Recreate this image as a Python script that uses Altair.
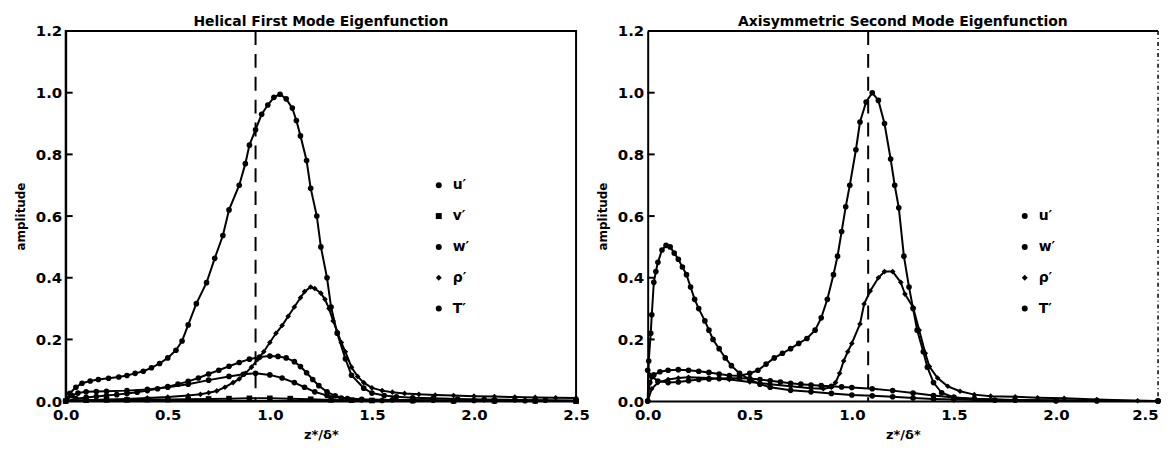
import altair as alt
import pandas as pd

# ---------------- Left panel: Helical First Mode Eigenfunction ----------------
L_T_x = [0, 0.02, 0.05, 0.08, 0.12, 0.16, 0.21, 0.26, 0.30, 0.34, 0.38, 0.42, 0.46, 0.50, 0.54, 0.57,
         0.60, 0.64, 0.69, 0.73, 0.77, 0.80, 0.85, 0.88, 0.90, 0.93, 0.96, 0.99, 1.02, 1.05, 1.08, 1.11,
         1.13, 1.15, 1.18, 1.20, 1.23, 1.25, 1.28, 1.30, 1.33, 1.37, 1.40, 1.46, 1.50, 1.56, 1.62, 1.70,
         1.80, 1.92, 2.05, 2.20, 2.35, 2.50]
L_T_y = [0.0, 0.025, 0.045, 0.058, 0.065, 0.070, 0.074, 0.078, 0.083, 0.090, 0.097, 0.108, 0.122, 0.140,
         0.165, 0.195, 0.247, 0.316, 0.384, 0.463, 0.537, 0.62, 0.70, 0.77, 0.83, 0.88, 0.93, 0.96, 0.985,
         0.995, 0.98, 0.95, 0.91, 0.86, 0.78, 0.69, 0.60, 0.50, 0.40, 0.305, 0.22, 0.137, 0.084, 0.042,
         0.026, 0.018, 0.014, 0.011, 0.009, 0.007, 0.005, 0.004, 0.003, 0.002]

L_R_x = [0, 0.1, 0.2, 0.3, 0.4, 0.5, 0.6, 0.66, 0.70, 0.74, 0.78, 0.82, 0.85, 0.88, 0.91, 0.94, 0.97,
         1.00, 1.03, 1.06, 1.09, 1.12, 1.15, 1.17, 1.20, 1.22, 1.25, 1.27, 1.29, 1.31, 1.33, 1.35, 1.37,
         1.40, 1.43, 1.46, 1.50, 1.55, 1.60, 1.66, 1.73, 1.81, 1.90, 2.00, 2.10, 2.20, 2.30, 2.40, 2.50]
L_R_y = [0.0, 0.003, 0.005, 0.007, 0.010, 0.013, 0.018, 0.022, 0.027, 0.033, 0.045, 0.060, 0.072, 0.090,
         0.110, 0.135, 0.160, 0.190, 0.220, 0.245, 0.275, 0.305, 0.335, 0.355, 0.370, 0.365, 0.350, 0.330,
         0.300, 0.260, 0.225, 0.190, 0.160, 0.110, 0.080, 0.060, 0.043, 0.034, 0.029, 0.025, 0.022, 0.020,
         0.018, 0.016, 0.015, 0.013, 0.012, 0.011, 0.010]

L_U_x = [0, 0.05, 0.1, 0.15, 0.2, 0.25, 0.3, 0.35, 0.4, 0.45, 0.5, 0.55, 0.6, 0.65, 0.7, 0.75, 0.8, 0.85,
         0.9, 0.95, 1.0, 1.04, 1.08, 1.12, 1.15, 1.18, 1.21, 1.24, 1.28, 1.32, 1.38, 1.45, 1.55, 1.7, 1.9,
         2.1, 2.3, 2.5]
L_U_y = [0.0, 0.008, 0.012, 0.015, 0.018, 0.021, 0.025, 0.029, 0.034, 0.040, 0.047, 0.055, 0.064, 0.075,
         0.088, 0.100, 0.113, 0.125, 0.136, 0.143, 0.146, 0.145, 0.140, 0.128, 0.112, 0.092, 0.070, 0.050,
         0.030, 0.017, 0.008, 0.004, 0.002, 0.001, 0.0, 0.0, 0.0, 0.0]

L_W_x = [0, 0.03, 0.06, 0.1, 0.15, 0.2, 0.3, 0.4, 0.5, 0.6, 0.7, 0.8, 0.87, 0.93, 1.0, 1.06, 1.12, 1.17,
         1.22, 1.28, 1.35, 1.45, 1.6, 1.8, 2.0, 2.25, 2.5]
L_W_y = [0.0, 0.018, 0.026, 0.030, 0.031, 0.032, 0.034, 0.038, 0.045, 0.055, 0.068, 0.080, 0.087, 0.090,
         0.085, 0.075, 0.060, 0.045, 0.030, 0.018, 0.010, 0.006, 0.004, 0.003, 0.002, 0.001, 0.0]

L_V_x = [0, 0.1, 0.2, 0.3, 0.4, 0.5, 0.6, 0.7, 0.8, 0.9, 1.0, 1.1, 1.2, 1.3, 1.4, 1.5, 1.7, 1.9, 2.1,
         2.3, 2.5]
L_V_y = [0.0, 0.003, 0.004, 0.004, 0.005, 0.005, 0.006, 0.007, 0.008, 0.009, 0.009, 0.008, 0.006, 0.004,
         0.003, 0.002, 0.002, 0.001, 0.001, 0.001, 0.0]

# ---------------- Right panel: Axisymmetric Second Mode Eigenfunction ----------------
R_T_x = [0, 0.01, 0.03, 0.06, 0.1, 0.15, 0.2, 0.25, 0.3, 0.35, 0.4, 0.45, 0.5, 0.54, 0.58, 0.62, 0.66,
         0.70, 0.74, 0.78, 0.82, 0.85, 0.88, 0.91, 0.93, 0.95, 0.97, 0.99, 1.02, 1.04, 1.07, 1.10, 1.13,
         1.16, 1.19, 1.21, 1.23, 1.255, 1.28, 1.30, 1.32, 1.35, 1.37, 1.40, 1.44, 1.50, 1.6, 1.8, 2.0,
         2.2, 2.5]
R_T_y = [0.0, 0.06, 0.085, 0.095, 0.100, 0.102, 0.100, 0.097, 0.093, 0.088, 0.083, 0.082, 0.090, 0.100,
         0.120, 0.140, 0.155, 0.170, 0.187, 0.203, 0.230, 0.270, 0.330, 0.410, 0.470, 0.550, 0.630, 0.700,
         0.815, 0.905, 0.970, 1.000, 0.975, 0.900, 0.785, 0.700, 0.627, 0.470, 0.370, 0.300, 0.230, 0.160,
         0.110, 0.060, 0.027, 0.012, 0.006, 0.003, 0.002, 0.001, 0.0]

R_U_x = [0, 0.005, 0.015, 0.02, 0.03, 0.04, 0.05, 0.07, 0.09, 0.11, 0.13, 0.15, 0.17, 0.19, 0.21, 0.23,
         0.25, 0.28, 0.30, 0.32, 0.35, 0.38, 0.41, 0.45, 0.5, 0.55, 0.6, 0.7, 0.8, 0.9, 1.0, 1.1, 1.2, 1.3,
         1.4, 1.5, 1.7, 2.0, 2.5]
R_U_y = [0.0, 0.13, 0.22, 0.28, 0.385, 0.42, 0.45, 0.49, 0.505, 0.50, 0.48, 0.46, 0.435, 0.41, 0.37, 0.33,
         0.30, 0.26, 0.23, 0.20, 0.17, 0.14, 0.115, 0.09, 0.07, 0.055, 0.045, 0.035, 0.030, 0.025, 0.020,
         0.017, 0.014, 0.010, 0.007, 0.005, 0.003, 0.001, 0.0]

R_R_x = [0, 0.02, 0.05, 0.1, 0.15, 0.2, 0.3, 0.4, 0.5, 0.6, 0.7, 0.8, 0.86, 0.9, 0.92, 0.94, 0.96, 0.98,
         1.0, 1.04, 1.06, 1.09, 1.13, 1.16, 1.2, 1.24, 1.26, 1.30, 1.33, 1.36, 1.38, 1.42, 1.47, 1.53, 1.6,
         1.68, 1.8, 1.91, 2.04, 2.2, 2.4, 2.5]
R_R_y = [0.0, 0.04, 0.06, 0.07, 0.075, 0.077, 0.075, 0.070, 0.062, 0.055, 0.048, 0.042, 0.040, 0.045,
         0.060, 0.090, 0.130, 0.160, 0.187, 0.250, 0.315, 0.357, 0.400, 0.420, 0.420, 0.385, 0.347, 0.304,
         0.230, 0.155, 0.112, 0.075, 0.048, 0.032, 0.021, 0.016, 0.014, 0.011, 0.009, 0.005, 0.001, 0.0]

R_W_x = [0, 0.02, 0.05, 0.1, 0.15, 0.2, 0.25, 0.3, 0.35, 0.4, 0.45, 0.5, 0.55, 0.6, 0.65, 0.7, 0.75, 0.8,
         0.85, 0.9, 0.95, 1.0, 1.1, 1.2, 1.3, 1.4, 1.5, 1.6, 1.8, 2.0, 2.2, 2.5]
R_W_y = [0.10, 0.08, 0.065, 0.060, 0.062, 0.066, 0.070, 0.072, 0.073, 0.074, 0.074, 0.073, 0.070, 0.066,
         0.062, 0.058, 0.055, 0.052, 0.050, 0.048, 0.046, 0.044, 0.040, 0.034, 0.026, 0.018, 0.012, 0.008,
         0.004, 0.002, 0.001, 0.0]

LEFT_SERIES = ["u′", "v′", "w′", "ρ′", "T′"]
LEFT_SHAPES = ["circle", "square", "circle", "diamond", "circle"]
RIGHT_SERIES = ["u′", "w′", "ρ′", "T′"]
RIGHT_SHAPES = ["circle", "circle", "diamond", "circle"]

LEFT_TITLE = "Helical First Mode Eigenfunction"
RIGHT_TITLE = "Axisymmetric Second Mode Eigenfunction"
LEFT_DASH = 0.93
RIGHT_DASH = 1.08
X_TICKS = [0.0, 0.5, 1.0, 1.5, 2.0, 2.5]
Y_TICKS = [0.0, 0.2, 0.4, 0.6, 0.8, 1.0, 1.2]
X_TITLE = "z*/δ*"
Y_TITLE = "amplitude"

W, H = 513, 372
FONT = "DejaVu Sans"


def frame(pairs):
    rows = []
    for name, xs, ys in pairs:
        for x, y in zip(xs, ys):
            rows.append({"x": x, "y": y, "s": name})
    return pd.DataFrame(rows)


def panel(pairs, series, shapes, title, dash, leg_x, leg_y, full_box, last_right):
    df = frame(pairs)
    xsc = alt.Scale(domain=[0, 2.5], nice=False, zero=False, padding=0)
    ysc = alt.Scale(domain=[0, 1.2], nice=False, zero=False, padding=0)
    extra = {}
    if last_right:
        extra["labelAlign"] = alt.ConditionalAxisLabelAlign(
            condition={"test": "datum.value > 2.4", "value": "right"}, value="center")
    xax = alt.Axis(values=X_TICKS, format=".1f", title=X_TITLE, ticks=False, grid=False,
                   labelFlush=False,
                   labelFontSize=15, labelFontWeight="bold", labelFont=FONT, labelPadding=6,
                   titleFontSize=13, titleFontWeight="bold", titleFont=FONT, titlePadding=7,
                   domainColor="black", domainWidth=2, labelColor="black", titleColor="black", **extra)
    yax = alt.Axis(values=Y_TICKS, format=".1f", title=Y_TITLE, ticks=False, grid=False,
                   labelFlush=False,
                   labelFontSize=15, labelFontWeight="bold", labelFont=FONT, labelPadding=4,
                   titleFontSize=12, titleFontWeight="bold", titleFont=FONT, titlePadding=8,
                   domainColor="black", domainWidth=2, labelColor="black", titleColor="black")
    base = alt.Chart(df)
    lines = base.mark_line(color="black", strokeWidth=2).encode(
        x=alt.X("x:Q", scale=xsc, axis=xax),
        y=alt.Y("y:Q", scale=ysc, axis=yax),
        detail="s:N",
        order="x:Q",
    )
    pts = base.mark_point(filled=True, color="black", size=32, opacity=1).encode(
        x=alt.X("x:Q", scale=xsc),
        y=alt.Y("y:Q", scale=ysc),
        shape=alt.Shape("s:N", scale=alt.Scale(domain=series, range=shapes),
                        legend=alt.Legend(orient="none", legendX=leg_x, legendY=leg_y, title=None,
                                          labelFontSize=14, labelFontWeight="bold", labelFont=FONT,
                                          labelColor="black", symbolFillColor="black",
                                          symbolStrokeColor="black", symbolSize=36,
                                          rowPadding=17, labelOffset=7)),
    )
    dash_rule = alt.Chart(pd.DataFrame({"x": [dash]})).mark_rule(
        color="black", strokeWidth=2, strokeDash=[14, 9]).encode(x=alt.X("x:Q", scale=xsc))
    yt = alt.Chart(pd.DataFrame({"v": Y_TICKS[1:-1]})).mark_rule(color="black", strokeWidth=2).encode(
        y=alt.Y("v:Q", scale=ysc), x=alt.value(0), x2=alt.value(7))
    layers = [dash_rule, lines, pts, yt]
    if not full_box:
        top = alt.Chart(pd.DataFrame({"v": [1.2]})).mark_rule(color="black", strokeWidth=2).encode(
            y=alt.Y("v:Q", scale=ysc), x=alt.value(0), x2=alt.value(W))
        right = alt.Chart(pd.DataFrame({"v": [2.5]})).mark_rule(
            color="black", strokeWidth=1.5, strokeDash=[4, 3, 1, 3]).encode(
            x=alt.X("v:Q", scale=xsc), y=alt.value(0), y2=alt.value(H))
        layers += [top, right]
    ch = alt.layer(*layers).properties(
        width=W, height=H,
        title=alt.TitleParams(title, fontSize=14, fontWeight="bold", font=FONT, color="black", offset=-5),
    )
    if full_box:
        ch = ch.properties(view=alt.ViewBackground(stroke="black", strokeWidth=2))
    else:
        ch = ch.properties(view=alt.ViewBackground(stroke="transparent"))
    return ch


left = panel([("T′", L_T_x, L_T_y), ("ρ′", L_R_x, L_R_y), ("u′", L_U_x, L_U_y),
              ("w′", L_W_x, L_W_y), ("v′", L_V_x, L_V_y)],
             LEFT_SERIES, LEFT_SHAPES, LEFT_TITLE, LEFT_DASH, 368, 148, True, False)
right = panel([("T′", R_T_x, R_T_y), ("u′", R_U_x, R_U_y), ("ρ′", R_R_x, R_R_y), ("w′", R_W_x, R_W_y)],
              RIGHT_SERIES, RIGHT_SHAPES, RIGHT_TITLE, RIGHT_DASH, 372, 179, False, True)

chart = alt.hconcat(left, right, spacing=4).resolve_scale(shape="independent").configure(
    background="white"
)

chart.save("out.html", embed_options={"renderer": "svg", "actions": False})
